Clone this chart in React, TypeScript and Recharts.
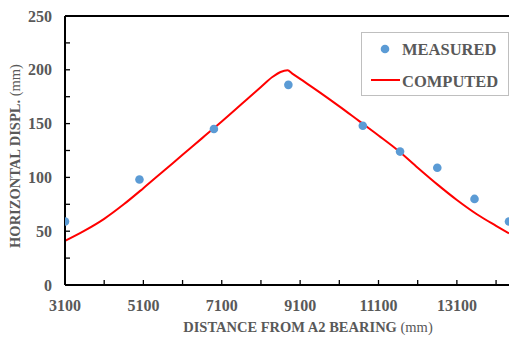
import React from 'react';
import { ComposedChart, Line, Scatter, XAxis, YAxis, ReferenceLine, Legend } from 'recharts';

// measured points (distance mm, displacement mm)
const measuredX = [3100, 5000, 6900, 8800, 10700, 11650, 12600, 13550, 14430];
const measuredY = [59, 98, 145, 186, 148, 124, 109, 80, 59];

// computed curve
const computedX = [3100, 3600, 4100, 4600, 5100, 5600, 6100, 6600, 7100, 7600, 8100, 8400, 8600, 8780, 8900, 9100, 9600, 10100, 10600, 11100, 11600, 12100, 12600, 13100, 13600, 14100, 14430];
const computedY = [41, 50.5, 61.5, 75, 90, 105.5, 121, 136.5, 152, 168, 184, 193.5, 198, 199.5, 196.5, 191.5, 179, 166, 152.5, 139, 125, 109, 93.5, 79, 66, 55, 48];

const xTicks = [3100, 4100, 5100, 6100, 7100, 8100, 9100, 10100, 11100, 12100, 13100, 14100];
const yTicks = [0, 25, 50, 75, 100, 125, 150, 175, 200, 225, 250];

const FONT = '"Liberation Serif", "Times New Roman", serif';
const GREY = '#595959';

const measuredData = measuredX.map((x, i) => ({ x, y: measuredY[i] }));
const computedData = computedX.map((x, i) => ({ x, y: computedY[i] }));

const XTick = (props: any) => {
  const { x, y, payload } = props;
  const showLabel = (payload.value - 3100) % 2000 === 0;
  return (
    <g>
      <line x1={x} y1={y} x2={x} y2={y - 5} stroke="#000" strokeWidth={1.3} />
      {showLabel && (
        <text x={x} y={y + 20} textAnchor="middle" dominantBaseline="central"
          fontFamily={FONT} fontWeight="bold" fontSize={16} fill={GREY}>
          {payload.value}
        </text>
      )}
    </g>
  );
};

const YTick = (props: any) => {
  const { x, y, payload } = props;
  const showLabel = payload.value % 50 === 0;
  return (
    <g>
      <line x1={x} y1={y} x2={x + 5} y2={y} stroke="#000" strokeWidth={1.3} />
      {showLabel && (
        <text x={x - 13} y={y} textAnchor="end" dominantBaseline="central"
          fontFamily={FONT} fontWeight="bold" fontSize={16} fill={GREY}>
          {payload.value}
        </text>
      )}
    </g>
  );
};

const XTitle = (props: any) => {
  const vb = props.viewBox || { x: 65, y: 285, width: 444 };
  return (
    <text x={vb.x + vb.width / 2 + 21} y={vb.y + 42} textAnchor="middle" dominantBaseline="central"
      fontFamily={FONT} fontSize={14.5} fill={GREY}>
      <tspan fontWeight="bold">DISTANCE FROM A2 BEARING</tspan>
      <tspan> (mm)</tspan>
    </text>
  );
};

const YTitle = () => (
  <text x={15} y={156} transform="rotate(-90 15 156)" textAnchor="middle" dominantBaseline="central"
    fontFamily={FONT} fontSize={14.5} fill={GREY}>
    <tspan fontWeight="bold">HORIZONTAL DISPL.</tspan>
    <tspan> (mm)</tspan>
  </text>
);

const LegendBox = () => (
  <div style={{ width: 148, height: 64, border: '1px solid #bfbfbf', background: '#fff', boxSizing: 'border-box' }}>
    <svg width={146} height={62}>
      <circle cx={23} cy={16} r={4.3} fill="#5b9bd5" />
      <text x={40} y={16} dominantBaseline="central" fontFamily={FONT} fontWeight="bold" fontSize={16.5} fill={GREY}>MEASURED</text>
      <line x1={9} y1={47} x2={38} y2={47} stroke="#ff0000" strokeWidth={2} />
      <text x={40} y={48} dominantBaseline="central" fontFamily={FONT} fontWeight="bold" fontSize={16.5} fill={GREY}>COMPUTED</text>
    </svg>
  </div>
);

const Dot = (props: any) => <circle cx={props.cx} cy={props.cy} r={4.3} fill="#5b9bd5" />;

export default function App() {
  return (
    <div style={{ position: 'absolute', left: 0, top: 0, background: '#fff' }}>
      <ComposedChart width={509} height={337} margin={{ top: 16, right: 0, bottom: 0, left: 0 }}>
        <XAxis
          dataKey="x"
          type="number"
          domain={[3100, 14430]}
          ticks={xTicks}
          allowDataOverflow
          height={52}
          tickSize={0}
          tickMargin={0}
          tickLine={false}
          tick={<XTick />}
          axisLine={{ stroke: '#000', strokeWidth: 2 }}
          interval={0}
          label={<XTitle />}
        />
        <YAxis
          dataKey="y"
          type="number"
          domain={[0, 250]}
          ticks={yTicks}
          width={65}
          tickSize={0}
          tickMargin={0}
          tickLine={false}
          tick={<YTick />}
          axisLine={{ stroke: '#000', strokeWidth: 2 }}
          interval={0}
          label={<YTitle />}
        />
        <ReferenceLine y={250} stroke="#000" strokeWidth={2} />
        <Line
          data={computedData}
          dataKey="y"
          type="monotone"
          stroke="#ff0000"
          strokeWidth={2}
          dot={false}
          activeDot={false}
          isAnimationActive={false}
          name="COMPUTED"
        />
        <Scatter
          data={measuredData}
          dataKey="y"
          fill="#5b9bd5"
          shape={<Dot />}
          isAnimationActive={false}
          name="MEASURED"
        />
        <Legend
          layout="vertical"
          align="center"
          verticalAlign="middle"
          content={<LegendBox />}
          wrapperStyle={{ position: 'absolute', left: 361, top: 32, width: 148, height: 64 }}
        />
      </ComposedChart>
    </div>
  );
}
